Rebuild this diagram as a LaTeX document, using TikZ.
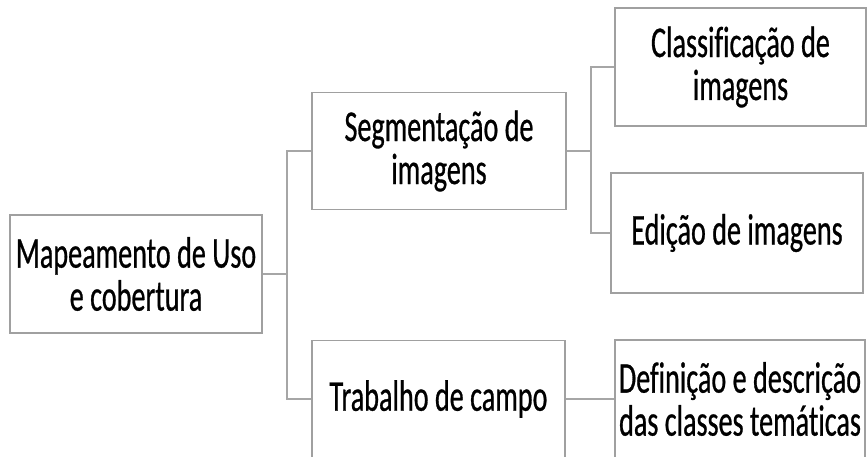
\documentclass[tikz,border=0pt]{standalone}
\usepackage{fontspec}
\newfontfamily\boxfont[FakeStretch=0.64,FakeBold=0.6,Ligatures=NoCommon]{Carlito}
\definecolor{linegray}{HTML}{A6A6A6}
\definecolor{boxgray}{HTML}{A0A0A0}
\begin{document}
\begin{tikzpicture}[x=1pt,y=-1pt,
  box/.style={draw=boxgray, line width=1.4pt, fill=white, inner sep=0pt, align=center,
    font=\boxfont\fontsize{44}{43}\selectfont},
  conn/.style={draw=linegray, line width=1.4pt}]
\useasboundingbox (0,0) rectangle (867,456);
\clip (0,0) rectangle (867,456);
\fill[white] (0,0) rectangle (867,456);
\node[box, minimum width=252pt, minimum height=118pt] (root) at (136,274) {Mapeamento de Uso\\e cobertura};
\node[box, minimum width=254pt, minimum height=117pt] (seg) at (439,151) {Segmentação de\\imagens};
\node[box, minimum width=253pt, minimum height=117pt] (trab) at (438.5,399) {Trabalho de campo};
\node[box, minimum width=251pt, minimum height=118pt] (cls) at (740.5,67) {Classificação de\\imagens};
\node[box, minimum width=252pt, minimum height=120pt] (edi) at (737,233) {Edição de imagens};
\node[box, minimum width=250pt, minimum height=118pt] (def) at (740,399) {Definição e descrição\\das classes temáticas};
\coordinate (j1) at (287,274);
\coordinate (j2) at (591,151);
\draw[conn] (root.east) -- (j1);
\draw[conn] (seg.west) -| (j1);
\draw[conn] (trab.west) -| (j1);
\draw[conn] (seg.east) -- (j2);
\draw[conn] (cls.west) -| (j2);
\draw[conn] (edi.west) -| (j2);
\draw[conn] (trab.east) -- (def.west);
\end{tikzpicture}
\end{document}
